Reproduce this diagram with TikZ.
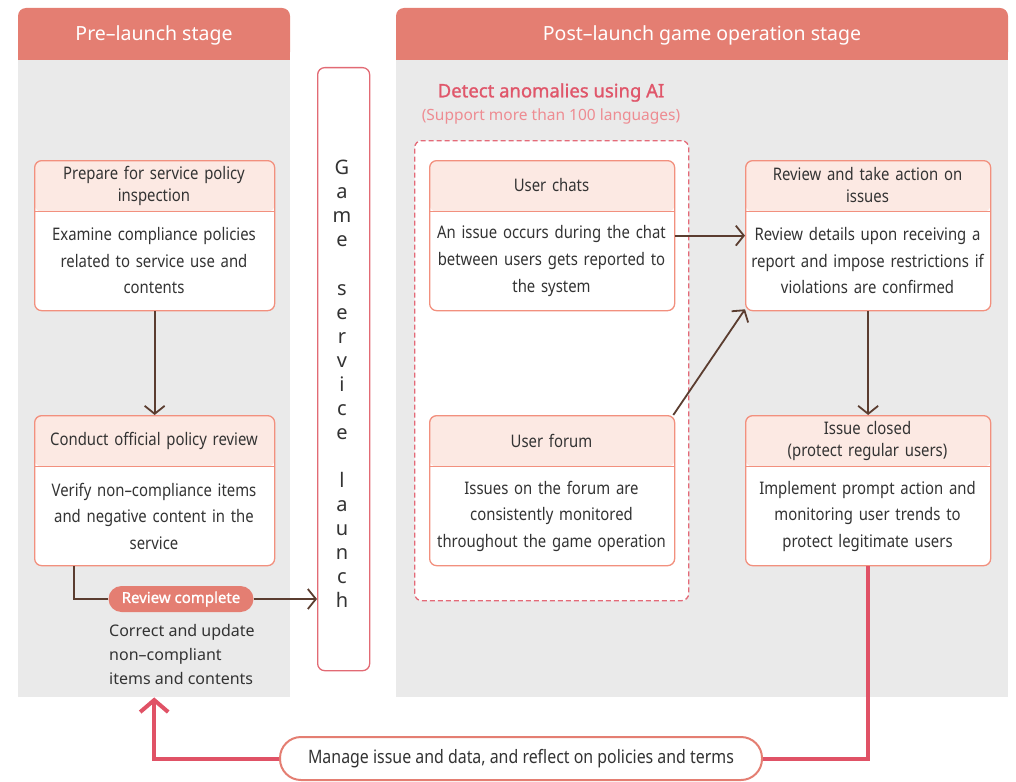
\documentclass[tikz,border=0pt]{standalone}
\usepackage{fontspec}
\setmainfont{Noto Sans}[FakeStretch=0.86]
\newfontfamily\wideface{Noto Sans}
\newfontfamily\titleface{Noto Sans}[FakeBold=1.3]
\usetikzlibrary{arrows.meta}
\definecolor{stagehead}{HTML}{E47E72}
\definecolor{panelgray}{HTML}{EAEAEA}
\definecolor{boxline}{HTML}{F2907E}
\definecolor{boxhead}{HTML}{FCE9E3}
\definecolor{launchline}{HTML}{E26A74}
\definecolor{dashline}{HTML}{E46A78}
\definecolor{loopred}{HTML}{E05266}
\definecolor{flowbrown}{HTML}{5B3D30}
\definecolor{txt}{HTML}{333333}
\definecolor{aired}{HTML}{E0566A}
\definecolor{aipink}{HTML}{EE8C92}
\begin{document}
\hyphenpenalty=10000
\exhyphenpenalty=10000
\begin{tikzpicture}[x=1pt,y=-1pt,
  panel/.style={fill=panelgray, inner sep=0pt, anchor=north west},
  stagetxt/.style={text=white, font=\wideface\fontsize{19.5}{22}\selectfont},
  flowbox/.style={draw=boxline, line width=1.3pt, fill=white, rounded corners=7pt,
    minimum height=150pt, inner sep=0pt, anchor=north west,
    path picture={
      \fill[boxhead] (path picture bounding box.north west) rectangle
        ([yshift=-51pt]path picture bounding box.north east);
      \draw[boxline, line width=1.3pt] ([yshift=-51pt]path picture bounding box.north west) --
        ([yshift=-51pt]path picture bounding box.north east);}},
  headtxt/.style={text=txt, align=center, text width=240pt, inner sep=0pt,
    font=\fontsize{17.3}{22}\selectfont},
  bodytxt/.style={text=txt, align=center, text width=240pt, inner sep=0pt,
    font=\fontsize{17.3}{26.5}\selectfont},
  flow/.style={draw=flowbrown, line width=1.8pt,
    -{Straight Barb[length=8pt,width=20pt,line width=1.8pt]}},
  loopline/.style={draw=loopred, line width=4pt},
  looparrow/.style={loopline, -{Straight Barb[length=12pt,width=28pt,line width=4pt]}},
  pill/.style={fill=stagehead, text=white, rounded corners=13pt, minimum width=145pt,
    minimum height=26pt, inner sep=0pt, font=\titleface\fontsize{15}{18}\selectfont},
  mpill/.style={draw=stagehead, line width=2pt, fill=white, rounded corners=21pt,
    minimum width=482pt, minimum height=43pt, inner sep=0pt, text=txt,
    font=\fontsize{18.5}{20}\selectfont},
]
\useasboundingbox (0,0) rectangle (1016,781);

% stage panels
\node[panel, minimum width=272pt, minimum height=637pt] (prebody) at (18,60) {};
\node[panel, minimum width=612pt, minimum height=637pt] (postbody) at (396,60) {};
\fill[stagehead, rounded corners=8pt] (18,60) rectangle (290,8);
\fill[stagehead] (18,40) rectangle (290,60);
\fill[stagehead, rounded corners=8pt] (396,60) rectangle (1008,8);
\fill[stagehead] (396,40) rectangle (1008,60);
\node[stagetxt] (pretitle) at (154,35.5) {Pre–launch stage};
\node[stagetxt] (posttitle) at (702,35.5) {Post–launch game operation stage};

% game service launch column
\node[draw=launchline, line width=1.3pt, fill=white, rounded corners=7pt, anchor=north west,
  minimum width=52pt, minimum height=603pt, inner sep=0pt] (launch) at (317,67) {};
\node[text=txt, align=center, inner sep=0pt,
  font=\wideface\fontsize{20}{24.05}\selectfont] (launchtxt) at (342,384)
  {G\\a\\m\\e\\[24.05pt]s\\e\\r\\v\\i\\c\\e\\[24.05pt]l\\a\\u\\n\\c\\h};

% pre-launch boxes
\node[flowbox, minimum width=240pt] (prep) at (34,160) {};
\node[headtxt] (preph) at (154,185.5) {Prepare for service policy\\inspection};
\node[bodytxt] (prepb) at (154,261) {Examine compliance policies\\related to service use and\\contents};

\node[flowbox, minimum width=240pt] (conduct) at (34,415) {};
\node[headtxt] (conducth) at (154,440.5) {Conduct official policy review};
\node[bodytxt] (conductb) at (154,516) {Verify non–compliance items\\and negative content in the\\service};

\node[pill] (done) at (181,599) {Review complete};
\node[text=txt, align=left, anchor=north west, inner sep=0pt,
  font=\wideface\fontsize{16}{24}\selectfont] (fix) at (109,624)
  {Correct and update\\non–compliant\\items and contents};

% AI detection area
\node[text=aired, inner sep=0pt, font=\titleface\fontsize{18.5}{22}\selectfont] (aititle) at (551,92.5) {Detect anomalies using AI};
\node[text=aipink, inner sep=0pt, font=\wideface\fontsize{15.5}{18}\selectfont] (aisub) at (551,116) {(Support more than 100 languages)};
\node[draw=dashline, dashed, dash pattern=on 5pt off 3pt, line width=1.3pt, fill=white,
  rounded corners=7pt, anchor=north west, minimum width=274pt, minimum height=460pt,
  inner sep=0pt] (ai) at (414,140) {};

\node[flowbox, minimum width=245pt] (chats) at (429,160) {};
\node[headtxt] (chatsh) at (551.5,185.5) {User chats};
\node[bodytxt] (chatsb) at (551.5,261) {An issue occurs during the chat\\between users gets reported to\\the system};

\node[flowbox, minimum width=245pt] (forum) at (429,415) {};
\node[headtxt] (forumh) at (551.5,440.5) {User forum};
\node[bodytxt] (forumb) at (551.5,516) {Issues on the forum are\\consistently monitored\\throughout the game operation};

% review and closing
\node[flowbox, minimum width=245pt] (review) at (745,160) {};
\node[headtxt] (reviewh) at (867.5,185.5) {Review and take action on\\issues};
\node[bodytxt] (reviewb) at (867.5,261) {Review details upon receiving a\\report and impose restrictions if\\violations are confirmed};

\node[flowbox, minimum width=245pt] (closed) at (745,415) {};
\node[headtxt] (closedh) at (867.5,440.5) {Issue closed\\(protect regular users)};
\node[bodytxt] (closedb) at (867.5,516) {Implement prompt action and\\monitoring user trends to\\protect legitimate users};

% feedback loop
\node[mpill] (manage) at (521,758.5) {Manage issue and data, and reflect on policies and terms};

% connectors
\draw[flow] (prep.south) -- (conduct.north);
\draw[draw=flowbrown, line width=1.8pt] ([xshift=40pt]conduct.south west) |- (done.west);
\draw[flow] (done.east) -- (launch.west |- done.east);
\draw[flow] (chats.east) -- (review.west);
\draw[flow] ([xshift=-2pt]forum.north east) -- ([yshift=2pt]review.south west);
\draw[flow] (review.south) -- (closed.north);
\draw[loopline] (closed.south) |- (manage.east);
\draw[looparrow] (manage.west) -| (prebody.south);
\end{tikzpicture}
\end{document}
